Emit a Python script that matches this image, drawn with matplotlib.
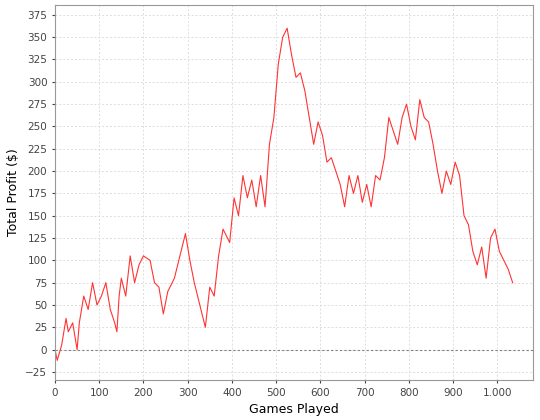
import matplotlib
matplotlib.use("Agg")
import matplotlib.pyplot as plt
from matplotlib.ticker import FuncFormatter, MultipleLocator

games = [0,5,15,25,30,40,50,55,65,75,85,95,105,115,125,135,140,145,150,160,170,180,190,200,215,225,235,245,255,270,285,295,305,315,330,340,350,360,370,380,395,405,415,425,435,445,455,465,475,485,495,505,515,525,535,545,555,565,575,585,595,605,615,625,635,645,655,665,675,685,695,705,715,725,735,745,755,765,775,785,795,805,815,825,835,845,855,865,875,885,895,905,915,925,935,945,955,965,975,985,995,1005,1015,1025,1035]
profit = [0,-12,5,35,20,30,0,30,60,45,75,50,60,75,45,30,20,60,80,60,105,75,95,105,100,75,70,40,65,80,110,130,100,75,45,25,70,60,105,135,120,170,150,195,170,190,160,195,160,230,260,320,350,360,330,305,310,290,260,230,255,240,210,215,200,185,160,195,175,195,165,185,160,195,190,215,260,245,230,260,275,250,235,280,260,255,230,200,175,200,185,210,195,150,140,110,95,115,80,125,135,110,100,90,75]

fig = plt.figure(figsize=(5.4, 4.2), dpi=100)
ax = fig.add_axes([55/540, 40/420, 478/540, 375/420])
ax.plot(games, profit, color="#ff3333", lw=0.8)
ax.axhline(0, color="#808080", lw=0.8, ls=(0, (2, 2)))
ax.set_xlim(0, 1081)
ax.set_ylim(-34, 386)
ax.xaxis.set_major_locator(MultipleLocator(100))
ax.yaxis.set_major_locator(MultipleLocator(25))
ax.xaxis.set_major_formatter(FuncFormatter(lambda v, p: f"{int(v):,}".replace(",", ".")))
ax.grid(True, color="#dddddd", ls=(0, (2, 2)), lw=0.7)
ax.set_axisbelow(True)
for s in ax.spines.values():
    s.set_color("#999999")
ax.tick_params(labelsize=7.5, colors="#444444", length=2)
ax.set_xlabel("Games Played", fontsize=9)
ax.set_ylabel("Total Profit ($)", fontsize=9)
fig.savefig("out.png", dpi=100)
